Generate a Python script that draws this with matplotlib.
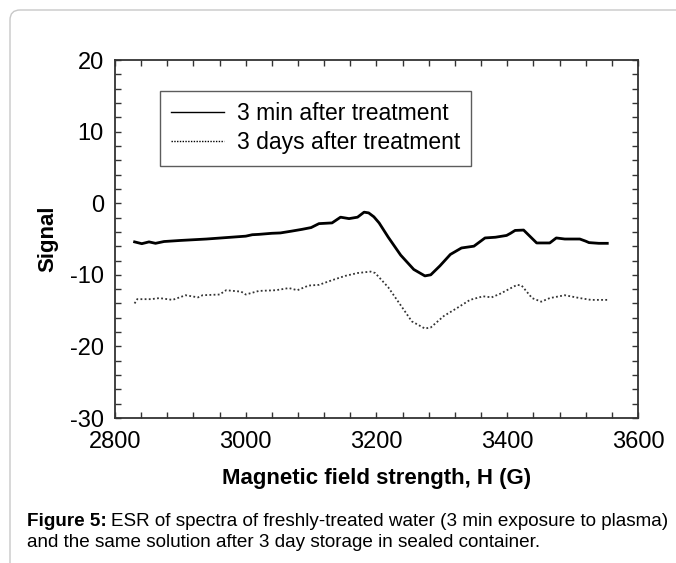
import matplotlib.pyplot as plt
from matplotlib.patches import FancyBboxPatch
from matplotlib.lines import Line2D

plt.rcParams['font.family'] = ['Liberation Sans', 'DejaVu Sans']
plt.rcParams['axes.unicode_minus'] = False

# field values (G) and signal for the fresh sample
field_fresh = [2830, 2841, 2852, 2862, 2875, 2900, 2940, 2970, 3000, 3010, 3020, 3040, 3053,
               3070, 3086, 3100, 3112, 3132, 3145, 3158, 3171, 3181, 3188, 3196, 3204, 3218,
               3237, 3257, 3274, 3283, 3297, 3313, 3330, 3349, 3366, 3382, 3399, 3405, 3412,
               3425, 3445, 3465, 3475, 3488, 3511, 3520, 3525, 3540, 3553]
signal_fresh = [-5.4, -5.65, -5.4, -5.6, -5.35, -5.2, -5.0, -4.8, -4.6, -4.4, -4.35, -4.2, -4.15,
                -3.9, -3.65, -3.4, -2.85, -2.75, -1.95, -2.15, -1.95, -1.25, -1.35, -1.9, -2.75,
                -4.75, -7.25, -9.25, -10.15, -10.0, -8.75, -7.15, -6.25, -6.0, -4.85, -4.75,
                -4.5, -4.2, -3.8, -3.75, -5.55, -5.55, -4.85, -5.0, -5.0, -5.3, -5.5, -5.6, -5.6]

# field values (G) and signal after 3 days storage
field_stored = [2830, 2834, 2855, 2868, 2888, 2908, 2927, 2934, 2960, 2970, 2993, 3000, 3020,
                3046, 3066, 3079, 3096, 3112, 3132, 3152, 3171, 3191, 3198, 3218, 3237, 3254,
                3274, 3283, 3303, 3323, 3343, 3363, 3376, 3389, 3415, 3422, 3438, 3452, 3465,
                3488, 3511, 3528, 3553]
signal_stored = [-14.0, -13.4, -13.4, -13.25, -13.5, -12.85, -13.15, -12.85, -12.75, -12.15,
                 -12.35, -12.75, -12.25, -12.15, -11.85, -12.15, -11.5, -11.4, -10.75, -10.15,
                 -9.75, -9.55, -9.75, -11.75, -14.25, -16.5, -17.5, -17.35, -15.75, -14.65,
                 -13.5, -13.0, -13.15, -12.65, -11.4, -11.5, -13.25, -13.75, -13.25, -12.85,
                 -13.25, -13.5, -13.5]

legend_labels = ['3 min after treatment', '3 days after treatment']

fig = plt.figure(figsize=(6.76, 5.63), dpi=100)

# rounded page frame, only top/left edges visible
frame = FancyBboxPatch((0.1, -0.5), 7.5, 5.53 + 0.5, boxstyle='round,pad=0,rounding_size=0.1',
                       transform=fig.dpi_scale_trans, facecolor='white', edgecolor='#c8c8c8',
                       linewidth=1.0, zorder=-10)
fig.patches.append(frame)

ax = fig.add_axes([0.1701, 0.2575, 0.7737, 0.6359])
ax.plot(field_fresh, signal_fresh, color='black', lw=2.0)
ax.plot(field_stored, signal_stored, color='#333333', lw=1.3, linestyle=(0, (1, 1.3)))

ax.set_xlim(2800, 3600)
ax.set_ylim(-30, 20)
ax.set_xticks([2800, 3000, 3200, 3400, 3600])
ax.set_yticks([-30, -20, -10, 0, 10, 20])
ax.set_xticks(range(2800, 3601, 40), minor=True)
ax.set_yticks(range(-30, 21, 2), minor=True)
ax.tick_params(which='both', direction='in', top=True, right=True, length=4, width=1,
               color='#333333', labelsize=17)
ax.tick_params(axis='x', pad=9)
ax.tick_params(axis='y', pad=8)
for s in ax.spines.values():
    s.set_color('#333333')
    s.set_linewidth(1.3)

ax.set_xlabel('Magnetic field strength, H (G)', fontsize=16, fontweight='bold', labelpad=11)
ax.set_ylabel('Signal', fontsize=16, fontweight='bold')
ax.yaxis.set_label_coords(-0.109, 0.5)

handles = [Line2D([], [], color='black', lw=1.0),
           Line2D([], [], color='black', lw=1.0, linestyle=(0, (1, 1)))]
leg = ax.legend(handles, legend_labels, loc='upper left', bbox_to_anchor=(0.086, 0.9135),
                fontsize=16.5, frameon=True, fancybox=False, handlelength=2.3,
                handletextpad=0.55, borderpad=0.5, labelspacing=0.25, borderaxespad=0)
leg.get_frame().set_edgecolor('#333333')
leg.get_frame().set_linewidth(1.0)

cap1 = fig.text(0.040, 0.0657, 'Figure 5:', fontsize=13.6, fontweight='bold', va='baseline')
fig.canvas.draw()
bb = cap1.get_window_extent()
fig.text(bb.x1 / fig.bbox.width + 0.006, 0.0657,
         'ESR of spectra of freshly-treated water (3 min exposure to plasma)',
         fontsize=13.6, va='baseline')
fig.text(0.040, 0.0289, 'and the same solution after 3 day storage in sealed container.',
         fontsize=13.6, va='baseline')

fig.savefig('out.png', dpi=100)
